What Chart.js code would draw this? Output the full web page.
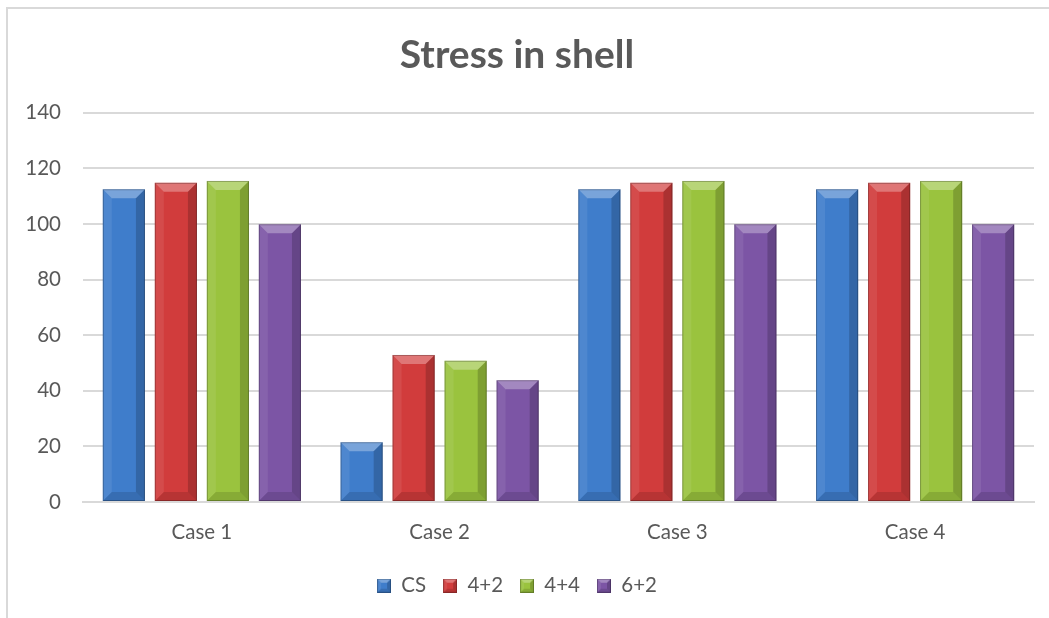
<!DOCTYPE html>
<html>
<head>
<meta charset="utf-8">
<script src="https://cdn.jsdelivr.net/npm/chart.js@4.4.0/dist/chart.umd.min.js"></script>
<style>
  html, body { margin: 0; padding: 0; background: #fff; overflow: hidden; }
  #rama { position: absolute; left: 6px; top: 7px; width: 1100px; height: 700px; border: 2px solid #d9d9d9; }
  #box { position: absolute; left: 0; top: 0; width: 1049px; height: 618px; }
</style>
</head>
<body>
<div id="rama"></div>
<div id="box"><canvas id="wykres"></canvas></div>
<script>
const kategorie = ['Case 1', 'Case 2', 'Case 3', 'Case 4'];
const serieNazwy = ['CS', '4+2', '4+4', '6+2'];
const wartosciCS = [112.5, 21.5, 112.5, 112.5];
const wartosci42 = [114.8, 52.9, 114.8, 114.8];
const wartosci44 = [115.5, 50.8, 115.5, 115.5];
const wartosci62 = [99.9, 43.8, 99.9, 99.9];
const kolory = ['#3f7dcb', '#d13c3c', '#9ac33e', '#7c55a5'];
const osY = [0, 20, 40, 60, 80, 100, 120, 140];

// bevel na prostokacie
function rysujBevel(ctx, l, t, r, b, s) {
    ctx.save();
    ctx.beginPath();
    ctx.moveTo(l, t); ctx.lineTo(r, t); ctx.lineTo(r - s, t + s); ctx.lineTo(l + s, t + s); ctx.closePath();
    ctx.fillStyle = 'rgba(255,255,255,0.30)';
    ctx.fill();
    ctx.beginPath();
    ctx.moveTo(l, t); ctx.lineTo(l + s, t + s); ctx.lineTo(l + s, b - s); ctx.lineTo(l, b); ctx.closePath();
    ctx.fillStyle = 'rgba(255,255,255,0.08)';
    ctx.fill();
    ctx.beginPath();
    ctx.moveTo(r, t); ctx.lineTo(r, b); ctx.lineTo(r - s, b - s); ctx.lineTo(r - s, t + s); ctx.closePath();
    ctx.fillStyle = 'rgba(0,0,0,0.18)';
    ctx.fill();
    ctx.beginPath();
    ctx.moveTo(l, b); ctx.lineTo(r, b); ctx.lineTo(r - s, b - s); ctx.lineTo(l + s, b - s); ctx.closePath();
    ctx.fillStyle = 'rgba(0,0,0,0.12)';
    ctx.fill();
    ctx.strokeStyle = 'rgba(0,0,0,0.25)';
    ctx.lineWidth = 1;
    ctx.strokeRect(l + 0.5, t + 0.5, r - l - 1, b - t - 1);
    ctx.restore();
}

function ikonaLegendy(kolor) {
    const c = document.createElement('canvas');
    c.width = 14; c.height = 14;
    const g = c.getContext('2d');
    g.fillStyle = kolor;
    g.fillRect(0, 0, 14, 14);
    rysujBevel(g, 0, 0, 14, 14, 4);
    return c;
}

const bevelPlugin = {
    id: 'bevel',
    afterDatasetsDraw(chart) {
        const ctx = chart.ctx;
        chart.data.datasets.forEach((ds, i) => {
            const meta = chart.getDatasetMeta(i);
            meta.data.forEach(bar => {
                const l = bar.x - bar.width / 2;
                const r = bar.x + bar.width / 2;
                const t = Math.min(bar.y, bar.base);
                const b = Math.max(bar.y, bar.base);
                const s = Math.min(9, (b - t) / 2);
                rysujBevel(ctx, l, t, r, b, s);
            });
        });
    }
};

const zbiory = [wartosciCS, wartosci42, wartosci44, wartosci62].map((dane, i) => ({
    label: serieNazwy[i],
    data: dane,
    backgroundColor: kolory[i],
    borderWidth: 0,
    pointStyle: ikonaLegendy(kolory[i]),
    categoryPercentage: 0.875,
    barPercentage: 0.81
}));

Chart.defaults.font.family = 'Lato, "Open Sans", sans-serif';
Chart.defaults.color = '#595959';

new Chart(document.getElementById('wykres'), {
    type: 'bar',
    data: { labels: kategorie, datasets: zbiory },
    options: {
        responsive: true,
        maintainAspectRatio: false,
        animation: false,
        layout: { padding: { left: 0, right: 15, top: 0, bottom: 12 } },
        plugins: {
            title: {
                display: true,
                text: 'Stress in shell',
                color: '#595959',
                font: { size: 39, weight: 'bold' },
                padding: { top: 32, bottom: 34 }
            },
            legend: {
                position: 'bottom',
                labels: {
                    usePointStyle: true,
                    boxWidth: 14,
                    boxHeight: 14,
                    font: { size: 20.5 },
                    color: '#595959',
                    padding: 17
                }
            },
            tooltip: { enabled: false }
        },
        scales: {
            x: {
                grid: { display: false, drawTicks: false },
                border: { display: true, color: '#d9d9d9', width: 2 },
                ticks: { font: { size: 20.5 }, padding: 18 },
                afterFit(axis) { axis.height = 56.5; }
            },
            y: {
                min: 0,
                max: 140,
                afterBuildTicks(axis) { axis.ticks = osY.map(v => ({ value: v })); },
                afterFit(axis) { axis.width = 83; },
                grid: { color: '#d9d9d9', lineWidth: 2, drawTicks: false },
                border: { display: false },
                ticks: { font: { size: 20.5 }, padding: 22 }
            }
        }
    },
    plugins: [bevelPlugin]
});
</script>
</body>
</html>
